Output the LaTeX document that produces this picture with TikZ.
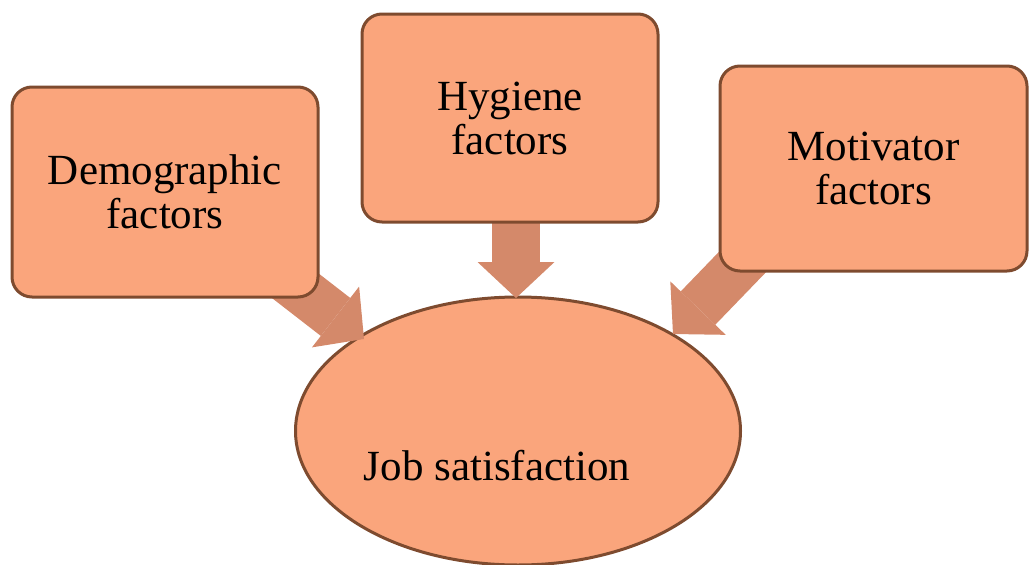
\documentclass[tikz,border=0pt]{standalone}
\usepackage{fontspec}
\setmainfont{Liberation Serif}
\usetikzlibrary{arrows.meta,shapes.geometric}
\definecolor{boxfill}{HTML}{FAA57C}
\definecolor{boxline}{HTML}{7E4B2F}
\definecolor{arrowfill}{HTML}{D4896A}
\tikzset{
  factorbox/.style={draw=boxline, line width=3pt, fill=boxfill, rounded corners=20pt,
    align=center, font=\fontsize{43}{44}\selectfont, inner sep=0pt},
  goalellipse/.style={draw=boxline, line width=3pt, fill=boxfill, ellipse, inner sep=0pt},
  goaltext/.style={font=\fontsize{43}{44}\selectfont, inner sep=0pt},
  blockarrow/.style={draw=arrowfill, line width=48pt,
    -{Triangle[width=77pt,length=36pt,line width=0pt,fill=arrowfill]}}
}
\begin{document}
\begin{tikzpicture}[x=1pt,y=-1pt]
\useasboundingbox (0,0) rectangle (1029,565);
% ellipse
\node[goalellipse, minimum width=445pt, minimum height=268pt] (ell) at (518,431) {};
\node[goaltext] (elltext) at (497,466) {Job satisfaction};
% connector end points
\coordinate (demostart) at (284,277);
\coordinate (demotip) at (364,339);
\coordinate (hygstart) at (516,200);
\coordinate (hygtip) at (516,298);
\coordinate (motstart) at (756,248);
\coordinate (mottip) at (673,334);
% arrows
\draw[blockarrow] (demostart) -- (demotip);
\draw[blockarrow] (hygstart) -- (hygtip);
\draw[blockarrow] (motstart) -- (mottip);
% boxes
\node[factorbox, minimum width=306pt, minimum height=210pt] (demo) at (165,192) {Demographic\\factors};
\node[factorbox, minimum width=296pt, minimum height=208pt] (hyg) at (510,118) {Hygiene\\factors};
\node[factorbox, minimum width=307pt, minimum height=205pt] (mot) at (873.5,168.5) {Motivator\\factors};
\end{tikzpicture}
\end{document}
